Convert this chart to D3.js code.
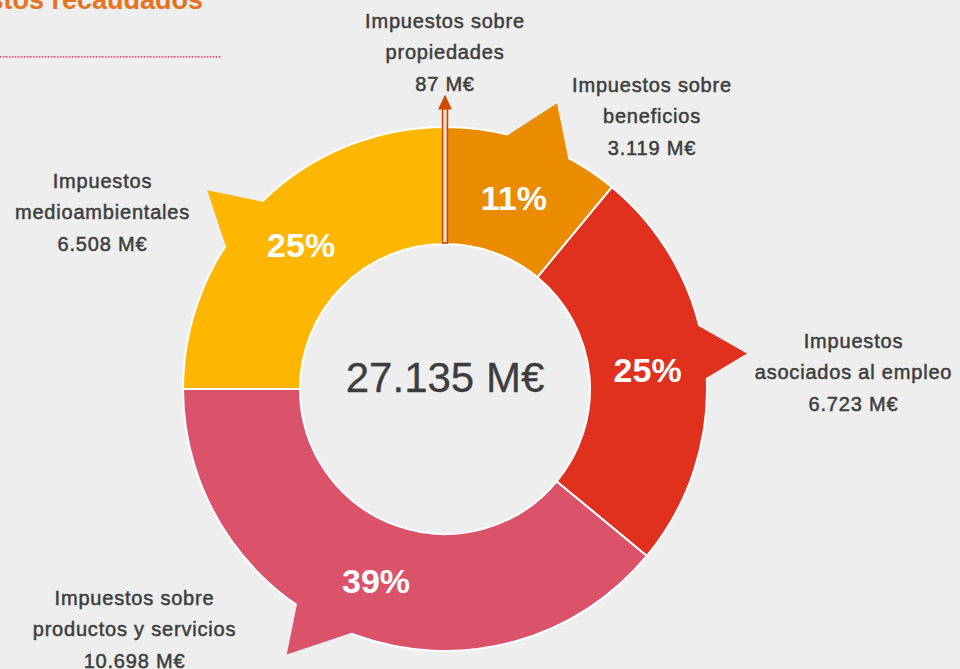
<!DOCTYPE html>
<html>
<head>
<meta charset="utf-8">
<script src="https://cdn.jsdelivr.net/npm/d3@7"></script>
<style>
  html, body { margin: 0; padding: 0; background: #eeeeee; }
  svg { display: block; }
</style>
</head>
<body>
<svg id="chart" width="960" height="669"></svg>
<script>
// ---------- DATA ----------
const categories = [
  "Impuestos sobre propiedades",
  "Impuestos sobre beneficios",
  "Impuestos asociados al empleo",
  "Impuestos sobre productos y servicios",
  "Impuestos medioambientales"
];
const labelLines = [
  ["Impuestos sobre", "propiedades"],
  ["Impuestos sobre", "beneficios"],
  ["Impuestos", "asociados al empleo"],
  ["Impuestos sobre", "productos y servicios"],
  ["Impuestos", "medioambientales"]
];
const amounts = [87, 3119, 6723, 10698, 6508];   // M€
const shares  = [0, 11, 25, 39, 25];              // % (rounded, as drawn)
const colors  = ["#d04a02", "#eb8c00", "#e0301e", "#db536a", "#ffb600"];
const titleText = "Impuestos recaudados";

// ---------- LAYOUT ----------
const W = 960, H = 669;
const cx = 445, cy = 389, R = 262, r0 = 145;
const labelPos = [            // anchor x, first baseline y
  [445, 27.5], [652, 91.5], [853.5, 347.5], [134.5, 604.5], [102.5, 187.5]
];
const lineH = 31.7;
// callout pointers: [base offset from mid angle, half width, tip offset, tip radius] (deg)
const pointer = [
  null, [1.2, 7.3, 1.6, 307], [-2.8, 5.9, -1.3, 304], [7.9, 6.9, 11, 309], [-5.6, 6.5, -5.1, 310]
];

const locale = d3.formatLocale({decimal: ",", thousands: ".", grouping: [3], currency: ["", "€"]});
const fmt = locale.format(",");
const total = d3.sum(amounts);

const data = categories.map((c, i) => ({name: c, lines: labelLines[i], amount: amounts[i], share: shares[i], color: colors[i], i}));

const svg = d3.select("#chart");
svg.append("rect").attr("width", W).attr("height", H).attr("fill", "#eeeeee");

// title (cropped at top-left) and dotted rule
svg.append("text")
  .attr("x", 203).attr("y", 8.5)
  .attr("text-anchor", "end")
  .attr("font-family", "Liberation Sans, Arial, sans-serif")
  .attr("font-weight", "bold").attr("font-size", 27)
  .attr("fill", "#e4721f")
  .text(titleText);
svg.append("line")
  .attr("x1", 0).attr("x2", 222).attr("y1", 56.8).attr("y2", 56.8)
  .attr("stroke", "#f0486e").attr("stroke-width", 1.8)
  .attr("stroke-dasharray", "1.5 1.5");

const g = svg.append("g").attr("transform", `translate(${cx},${cy})`);

const pie = d3.pie().sort(null).value(d => d.share);
const arcs = pie(data);
const arc = d3.arc().innerRadius(r0).outerRadius(R);

// slices
g.selectAll("path.slice")
  .data(arcs.filter(a => a.data.share > 0))
  .join("path")
  .attr("class", "slice")
  .attr("d", arc)
  .attr("fill", d => d.data.color)
  .attr("stroke", "#ffffff")
  .attr("stroke-width", 2)
  .attr("stroke-linejoin", "round");

// callout pointers
const rad = deg => deg * Math.PI / 180;
const pt = (angDeg, rr) => [rr * Math.sin(rad(angDeg)), -rr * Math.cos(rad(angDeg))];
g.selectAll("path.pointer")
  .data(arcs.filter(a => pointer[a.data.i]))
  .join("path")
  .attr("class", "pointer")
  .attr("fill", d => d.data.color)
  .attr("d", d => {
    const p = pointer[d.data.i];
    const mid = (d.startAngle + d.endAngle) / 2 * 180 / Math.PI;
    const b = mid + p[0];
    const a1 = pt(b - p[1], R - 1.5), a2 = pt(b + p[1], R - 1.5), t = pt(mid + p[2], p[3]);
    return "M" + a1 + "L" + t + "L" + a2 + "Z";
  });

// arrow for the tiny slice
const tiny = arcs.find(a => a.data.share === 0);
const tinyAng = (tiny.startAngle + tiny.endAngle) / 2 * 180 / Math.PI;
const ag = g.append("g").attr("transform", `rotate(${tinyAng})`);
ag.append("rect")
  .attr("x", -2.4).attr("width", 4.8)
  .attr("y", -280.5).attr("height", 280.5 - r0 - 1)
  .attr("fill", "#fbe6d6")
  .attr("stroke", tiny.data.color).attr("stroke-width", 1.7);
ag.append("path")
  .attr("d", `M-6.9,-279.5L0,-294.5L6.9,-279.5Z`)
  .attr("fill", tiny.data.color);

// percentage labels
g.selectAll("text.pct")
  .data(arcs.filter(a => a.data.share > 0))
  .join("text")
  .attr("class", "pct")
  .attr("transform", d => `translate(${arc.centroid(d)})`)
  .attr("text-anchor", "middle")
  .attr("dy", "0.36em")
  .attr("font-family", "Liberation Sans, Arial, sans-serif")
  .attr("font-weight", "bold").attr("font-size", 34)
  .attr("fill", "#ffffff")
  .text(d => d.data.share + "%");

// center total
g.append("text")
  .attr("x", 0).attr("y", 2.5)
  .attr("text-anchor", "middle")
  .attr("font-family", "Liberation Sans, Arial, sans-serif")
  .attr("font-size", 42)
  .attr("fill", "#3d3d3d")
  .attr("stroke", "#3d3d3d").attr("stroke-width", 0.3)
  .text(fmt(total) + " M€");

// category labels
const lab = svg.selectAll("text.lab")
  .data(data)
  .join("text")
  .attr("class", "lab")
  .attr("text-anchor", "middle")
  .attr("font-family", "Liberation Sans, Arial, sans-serif")
  .attr("font-size", 20)
  .attr("letter-spacing", "0.8px")
  .attr("fill", "#3d3d3d")
  .attr("stroke", "#3d3d3d").attr("stroke-width", 0.5);
lab.each(function(d) {
  const t = d3.select(this);
  const [x, y] = labelPos[d.i];
  const lines = d.lines.concat([fmt(d.amount) + " M€"]);
  lines.forEach((ln, k) => {
    t.append("tspan").attr("x", x).attr("y", y + k * lineH).text(ln);
  });
});
</script>
</body>
</html>
